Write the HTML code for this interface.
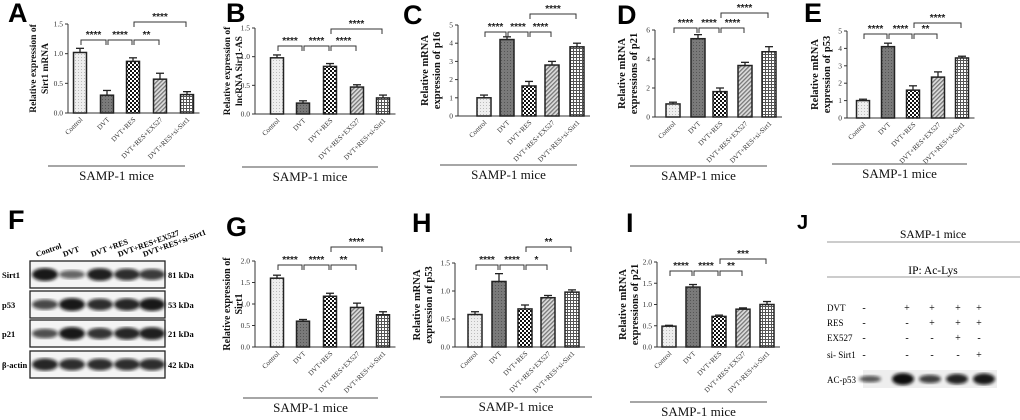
<!DOCTYPE html>
<html><head><meta charset="utf-8"><style>
html,body{margin:0;padding:0;background:#fff}
svg{display:block}
.t{font-family:"Liberation Serif",serif}
.L{font-family:"Liberation Sans",sans-serif;font-weight:bold}
</style></head><body>
<svg id="fig" width="1020" height="420" viewBox="0 0 1020 420" xmlns="http://www.w3.org/2000/svg">
<defs>
<pattern id="pCtrl" width="3" height="3" patternUnits="userSpaceOnUse"><rect width="3" height="3" fill="#eee"/><rect width="1" height="1" fill="#bbb"/></pattern>
<pattern id="pDvt" width="3" height="3" patternUnits="userSpaceOnUse"><rect width="3" height="3" fill="#7a7a7a"/><rect width="1" height="1" fill="#555"/></pattern>
<pattern id="pRes" width="4" height="4" patternUnits="userSpaceOnUse"><rect width="4" height="4" fill="#fff"/><rect width="2" height="2" fill="#111"/><rect x="2" y="2" width="2" height="2" fill="#111"/></pattern>
<pattern id="pEx" width="3" height="3" patternUnits="userSpaceOnUse" patternTransform="rotate(45)"><rect width="3" height="3" fill="#ddd"/><rect width="1.3" height="3" fill="#777"/></pattern>
<pattern id="pSi" width="3" height="3" patternUnits="userSpaceOnUse"><rect width="3" height="3" fill="#fff"/><rect width="3" height="1" fill="#555"/><rect width="1" height="3" fill="#555"/></pattern>
<filter id="blur"><feGaussianBlur stdDeviation="1.6"/></filter>
</defs>
<g id="charts"></g>
<g id="blotF"></g>
<g id="panelJ"></g>
</svg>
<script>
const categories=["Control","DVT","DVT+RES","DVT+RES+EX527","DVT+RES+si-Sirt1"];
const valuesA=[1.02,0.30,0.87,0.57,0.31]; const errA=[0.07,0.08,0.06,0.10,0.05];
const valuesB=[0.98,0.19,0.83,0.47,0.28]; const errB=[0.05,0.04,0.05,0.04,0.05];
const valuesC=[1.0,4.2,1.65,2.8,3.8]; const errC=[0.15,0.15,0.25,0.2,0.2];
const valuesD=[0.9,5.4,1.75,3.55,4.5]; const errD=[0.12,0.28,0.25,0.22,0.35];
const valuesE=[1.0,4.1,1.6,2.35,3.45]; const errE=[0.08,0.2,0.25,0.3,0.1];
const valuesG=[1.6,0.6,1.18,0.92,0.75]; const errG=[0.07,0.04,0.07,0.1,0.07];
const valuesH=[0.58,1.17,0.68,0.88,0.98]; const errH=[0.05,0.14,0.07,0.04,0.04];
const valuesI=[0.49,1.41,0.72,0.89,1.0]; const errI=[0.02,0.06,0.03,0.03,0.07];
const ticksA=["0.0","0.5","1.0","1.5"], ticksC=["0","1","2","3","4","5"], ticksD=["0","2","4","6"], ticksG=["0.0","0.5","1.0","1.5","2.0"];
const sigA=["****","****","**","****"], sigB=["****","****","****","****"], sigC=["****","****","****","****"];
const sigE=["****","****","**","****"], sigG=["****","****","**","****"], sigH=["****","****","*","**"], sigI=["****","****","**","***"];

const NS="http://www.w3.org/2000/svg";
function mk(p,tag,a,txt){const e=document.createElementNS(NS,tag);for(const k in a)e.setAttribute(k,a[k]);if(txt!=null)e.textContent=txt;p.appendChild(e);return e;}
const fills=["url(#pCtrl)","url(#pDvt)","url(#pRes)","url(#pEx)","url(#pSi)"];
const pairs=[[0,1,1],[1,2,1],[2,3,1],[2,4,2]];

function panel(cfg){
  const root=document.getElementById("charts");
  const g=mk(root,"g",{});
  
  
  const lab=mk(g,"text",{x:cfg.lx,y:cfg.ly,class:"L","font-size":cfg.lfs||27},cfg.id);
  
  
  const y=v=>cfg.y0-(v/cfg.max)*(cfg.y0-cfg.top);
  const x=i=>cfg.bx[i];
  const ax=mk(g,"line",{x1:cfg.ax,y1:cfg.top,x2:cfg.ax,y2:cfg.y0,stroke:"#333","stroke-width":1});
  
  const xa=mk(g,"line",{x1:cfg.ax,y1:cfg.y0,x2:cfg.bx[4]+cfg.bw/2+6,y2:cfg.y0,stroke:"#333","stroke-width":1});
  
  cfg.ticks.forEach(t=>{const v=parseFloat(t),yy=y(v);
    mk(g,"line",{x1:cfg.ax-3,y1:yy,x2:cfg.ax,y2:yy,stroke:"#333"});
    const tl=mk(g,"text",{x:cfg.ax-5,y:yy+2.5,class:"t","font-size":7.5,"text-anchor":"end",fill:"#333"},t);
    });
  cfg.vals.forEach((v,i)=>{const bx=x(i)-cfg.bw/2;
    const e=cfg.err[i];
    mk(g,"line",{x1:x(i),y1:y(v),x2:x(i),y2:y(v+e),stroke:"#222","stroke-width":1.3});
    mk(g,"line",{x1:x(i)-4,y1:y(v+e),x2:x(i)+4,y2:y(v+e),stroke:"#222","stroke-width":1.3});
    const b=mk(g,"rect",{x:bx,y:y(v),width:cfg.bw,height:cfg.y0-y(v),fill:fills[i],stroke:"#222","stroke-width":1.5});
    
    
    const xl=mk(g,"text",{class:"t","font-size":7,"text-anchor":"end",fill:"#333",transform:`translate(${x(i)+3},${cfg.y0+7}) rotate(-45)`},categories[i]);
    
  });
  pairs.forEach((p,k)=>{const yy=p[2]===1?cfg.b1:cfg.b2;const x1=x(p[0]),x2=x(p[1]);
    const br=mk(g,"path",{d:`M${x1+1},${yy+5}V${yy}H${x2-1}V${yy+5}`,fill:"none",stroke:"#333","stroke-width":1});
    
    const st=mk(g,"text",{x:(x1+x2)/2,y:yy-2,class:"L","font-size":10,"text-anchor":"middle",fill:"#222"},cfg.sig[k]);
    
  });
  const yl=mk(g,"text",{class:"t","font-weight":"bold","font-size":cfg.yfs||10.5,"text-anchor":"middle",fill:"#111",transform:`translate(${cfg.ylx},${(cfg.top+cfg.y0)/2}) rotate(-90)`});
  
  mk(yl,"tspan",{x:0,dy:0},cfg.yl[0]);mk(yl,"tspan",{x:0,dy:12},cfg.yl[1]);
  const sl=mk(g,"line",{x1:cfg.s[0],y1:cfg.s[2],x2:cfg.s[1],y2:cfg.s[2],stroke:"#888","stroke-width":1.5});
  
  const st=mk(g,"text",{x:(cfg.s[0]+cfg.s[1])/2,y:cfg.s[2]+14,class:"t","font-size":13,"text-anchor":"middle",fill:"#111"},"SAMP-1  mice");
  
}
panel({id:"A",lx:8,ly:22,ax:68,top:24,y0:113,max:1.5,ticks:ticksA,vals:valuesA,err:errA,bx:[80,107,133,160,187],bw:13,b1:40,b2:22,sig:sigA,ylx:36,yfs:9.5,yl:["Relative  expression of","Sirt1 mRNA"],s:[48,185,166]});
panel({id:"B",lx:226,ly:22,ax:255,top:28,y0:114,max:1.5,ticks:ticksA,vals:valuesB,err:errB,bx:[277,303,330,357,383],bw:13,b1:46,b2:29,sig:sigB,ylx:230,yfs:9.5,yl:["Relative expression of","lncRNA Sirt1-AS"],s:[242,378,167]});
panel({id:"C",lx:403,ly:24,ax:458,top:25,y0:116,max:5,ticks:ticksC,vals:valuesC,err:errC,bx:[484,507,529,552,577],bw:14,b1:32,b2:14,sig:sigC,ylx:428,yl:["Relative mRNA","expression of p16"],s:[440,577,165]});
panel({id:"D",lx:617,ly:24,ax:655,top:30,y0:117,max:6,ticks:ticksD,vals:valuesD,err:errD,bx:[673,698,720,745,769],bw:14,b1:28,b2:13,sig:sigC,ylx:625,yl:["Relative mRNA","expressions of p21"],s:[630,767,166]});
panel({id:"E",lx:804,ly:22,ax:847,top:31,y0:118,max:5,ticks:ticksC,vals:valuesE,err:errE,bx:[863,888,913,938,962],bw:13,b1:34,b2:23,sig:sigE,ylx:818,yl:["Relative mRNA","expression of p53"],s:[832,967,164]});
panel({id:"G",lx:226,ly:236,ax:255,top:261,y0:347,max:2,ticks:ticksG,vals:valuesG,err:errG,bx:[277,303,330,357,383],bw:13,b1:265,b2:247,sig:sigG,ylx:230,yfs:10,yl:["Relative expression of","Sirt1"],s:[243,378,398]});
panel({id:"H",lx:412,ly:232,ax:455,top:263,y0:347,max:1.5,ticks:ticksA,vals:valuesH,err:errH,bx:[475,499,525,548,572],bw:14,b1:265,b2:247,sig:sigH,ylx:420,yl:["Relative mRNA","expression of p53"],s:[440,592,397]});
panel({id:"I",lx:626,ly:232,ax:657,top:262,y0:347,max:2,ticks:ticksG,vals:valuesI,err:errI,bx:[669,693,719,743,767],bw:14,b1:271,b2:259,sig:sigI,ylx:626,yl:["Relative mRNA","expressions of p21"],s:[630,767,402]});

// Western blot F
const blotRows=["Sirt1","p53","p21","β-actin"], blotKda=["81 kDa","53 kDa","21 kDa","42 kDa"];
const blotIntensity=[[1,0.45,0.95,0.85,0.75],[0.65,1,0.85,0.9,1],[0.6,1,0.8,0.9,0.95],[0.9,0.85,0.85,0.85,0.85]];
const lanesF=["Control","DVT","DVT +RES","DVT+RES+EX527","DVT+RES+si-Sirt1"];
(function(){const g=document.getElementById("blotF");
 const L=mk(g,"text",{x:8,y:229,class:"L","font-size":27},"F");
 const rowsY=[261,291,320,351],lx=[45,72,100,127,152];
 lanesF.forEach((n,i)=>{const t=mk(g,"text",{class:"t","font-weight":"bold","font-size":8,transform:`translate(${lx[i]-8},${257}) rotate(-20)`},n);
   });
 rowsY.forEach((ry,r)=>{const b=mk(g,"rect",{x:30,y:ry,width:135,height:27,fill:"#f4f4f4",stroke:"#222","stroke-width":1.3});
   
   blotIntensity[r].forEach((v,i)=>{const band=mk(g,"ellipse",{cx:lx[i],cy:ry+13.5,rx:13,ry:2.5+4*v,fill:"#111",opacity:0.35+0.6*v,filter:"url(#blur)"});
     });
   const a=mk(g,"text",{x:2,y:ry+17,class:"t","font-weight":"bold","font-size":8.5},blotRows[r]);
   const k=mk(g,"text",{x:168,y:ry+17,class:"t","font-weight":"bold","font-size":8.5},blotKda[r]);});
})();
// Panel J
const jRows=["DVT","RES","EX527","si- Sirt1"];
const jSigns=[["-","+","+","+","+"],["-","-","+","+","+"],["-","-","-","+","-"],["-","-","-","-","+"]];
const jBand=[0.35,1,0.55,0.8,0.9];
(function(){const g=document.getElementById("panelJ");
 const L=mk(g,"text",{x:797,y:229,class:"L","font-size":20},"J");
 mk(g,"text",{x:933,y:238,class:"t","font-size":11.5,"text-anchor":"middle"},"SAMP-1 mice");
 mk(g,"line",{x1:827,y1:242,x2:1020,y2:242,stroke:"#999","stroke-width":1});
 mk(g,"text",{x:933,y:274,class:"t","font-size":11.5,"text-anchor":"middle"},"IP: Ac-Lys");
 mk(g,"line",{x1:827,y1:277,x2:1020,y2:277,stroke:"#999","stroke-width":1});
 const cx=[864,907,932,958,979],ry=[311,326,341,358];
 jRows.forEach((r,i)=>{mk(g,"text",{x:827,y:ry[i],class:"t","font-size":9},r);
   jSigns[i].forEach((s,j)=>mk(g,"text",{x:cx[j],y:ry[i],class:"t","font-size":10,"text-anchor":"middle"},s));});
 mk(g,"text",{x:827,y:383,class:"t","font-size":9},"AC-p53");
 mk(g,"rect",{x:863,y:370,width:134,height:18,fill:"#eee"});
 const bx=[870,903,930,957,984];
 jBand.forEach((v,i)=>{const b=mk(g,"ellipse",{cx:bx[i],cy:379,rx:11,ry:2+4*v,fill:"#111",opacity:0.5+0.5*v,filter:"url(#blur)"});
   });
})();
</script>
</body></html>
